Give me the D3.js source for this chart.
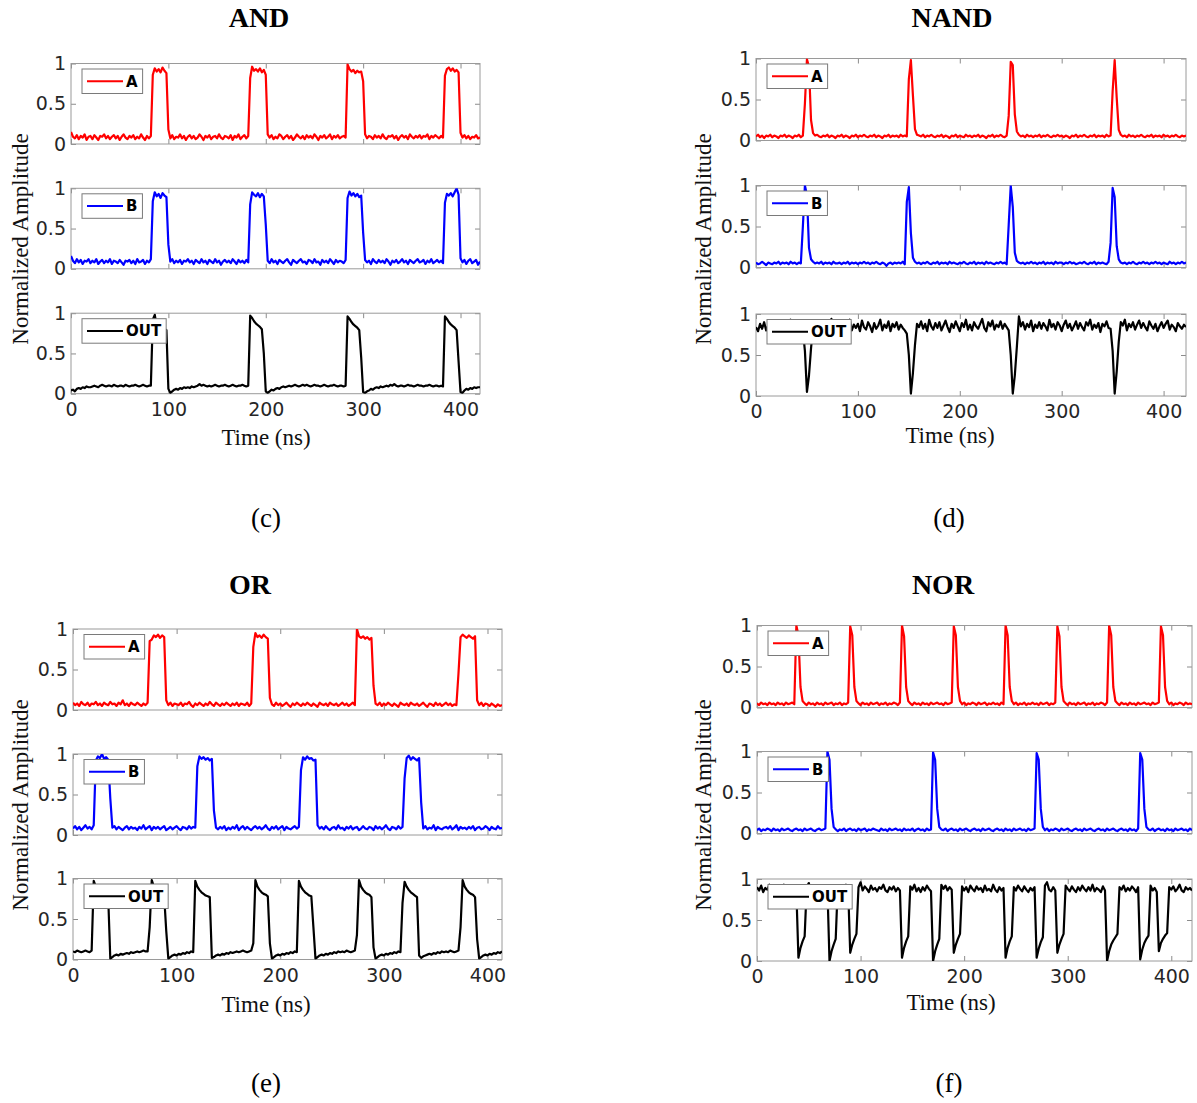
<!DOCTYPE html>
<html>
<head>
<meta charset="utf-8">
<script src="https://cdn.jsdelivr.net/npm/d3@7"></script>
<style>
  body { margin: 0; background: #fff; }
  svg { display: block; }
  .tick text { font-family: "DejaVu Sans", sans-serif; font-size: 19px; fill: #262626; }
  .tick line { stroke: #8c8c8c; }
  .title { font-family: "Liberation Serif", "Times New Roman", serif; font-weight: bold; font-size: 28px; }
  .axis-title { font-family: "Liberation Serif", "Times New Roman", serif; font-size: 23px; fill: #111; }
  .caption { font-family: "Liberation Serif", "Times New Roman", serif; font-size: 27px; }
  .legend text { font-family: "DejaVu Sans", sans-serif; font-weight: bold; font-size: 15px; }
</style>
</head>
<body>
<div class="chart"></div>
<script>
// sampling step of every trace (ns), samples start at t = 0
const dt = 2

// ---- AND gate ----
const andA = [
  .15,.09,.07,.11,.06,.10,.08,.12,.05,.09,
  .10,.06,.11,.08,.05,.10,.09,.12,.07,.10,
  .06,.09,.11,.07,.10,.05,.09,.12,.08,.06,
  .10,.08,.11,.06,.09,.07,.12,.08,.05,.10,
  .07,.10,.86,.94,.90,.93,.89,.95,.91,.88,
  .18,.07,.11,.06,.09,.08,.12,.07,.10,.05,
  .09,.11,.07,.10,.06,.08,.12,.09,.05,.10,
  .08,.11,.06,.09,.10,.07,.12,.08,.06,.10,
  .09,.07,.11,.05,.10,.08,.12,.06,.09,.11,
  .07,.10,.82,.96,.91,.93,.90,.94,.89,.92,
  .86,.12,.08,.11,.06,.09,.07,.12,.10,.06,
  .09,.11,.07,.10,.05,.08,.12,.09,.07,.10,
  .06,.11,.08,.10,.07,.12,.09,.05,.10,.08,
  .11,.07,.09,.12,.06,.10,.08,.11,.07,.09,
  .10,.08,.99,.93,.90,.92,.88,.91,.89,.90,
  .78,.12,.07,.10,.09,.06,.11,.08,.10,.07,
  .12,.08,.06,.10,.09,.11,.07,.10,.05,.09,
  .11,.08,.10,.06,.12,.09,.07,.10,.08,.11,
  .07,.10,.09,.12,.06,.10,.08,.11,.09,.07,
  .10,.08,.85,.93,.95,.91,.94,.90,.92,.89,
  .14,.08,.11,.07,.10,.06,.09,.08,.11,.07,
  .08
]
const andB = [
  .16,.10,.07,.12,.08,.11,.06,.10,.09,.12,
  .07,.10,.08,.12,.06,.09,.11,.07,.10,.08,
  .12,.06,.10,.09,.07,.11,.08,.05,.10,.09,
  .11,.07,.10,.06,.12,.08,.09,.11,.06,.10,
  .08,.12,.84,.95,.90,.93,.88,.94,.91,.89,
  .30,.09,.12,.07,.10,.08,.11,.06,.10,.09,
  .12,.08,.10,.06,.11,.09,.07,.12,.08,.10,
  .06,.11,.09,.07,.12,.08,.10,.05,.09,.11,
  .08,.10,.07,.12,.09,.06,.11,.08,.10,.07,
  .11,.08,.80,.95,.92,.90,.94,.89,.93,.90,
  .55,.10,.07,.12,.08,.10,.06,.11,.09,.07,
  .10,.12,.08,.05,.11,.09,.07,.10,.12,.08,
  .09,.06,.11,.10,.07,.12,.08,.09,.05,.11,
  .08,.10,.07,.12,.09,.06,.11,.08,.10,.09,
  .07,.11,.88,.96,.91,.94,.90,.93,.89,.91,
  .45,.11,.08,.10,.06,.12,.09,.07,.11,.08,
  .10,.07,.12,.09,.05,.10,.08,.11,.07,.09,
  .12,.08,.10,.06,.11,.09,.07,.10,.12,.08,
  .09,.11,.06,.10,.08,.12,.07,.09,.11,.08,
  .10,.07,.82,.93,.91,.94,.90,.95,1.0,.92,
  .13,.08,.11,.06,.10,.12,.07,.09,.11,.05,
  .09
]
const andOut = [
  .04,.05,.03,.06,.07,.06,.08,.07,.09,.08,
  .08,.09,.10,.09,.08,.10,.11,.10,.09,.10,
  .10,.09,.11,.10,.09,.10,.10,.09,.11,.10,
  .09,.10,.10,.11,.10,.09,.10,.11,.10,.09,
  .10,.10,.92,.98,.84,.82,.81,.80,.80,.79,
  .06,.01,.03,.05,.06,.05,.07,.06,.08,.07,
  .08,.07,.09,.08,.09,.10,.12,.10,.11,.10,
  .09,.10,.09,.10,.11,.10,.09,.10,.10,.11,
  .10,.09,.10,.11,.10,.09,.10,.10,.11,.10,
  .09,.10,.97,.94,.90,.87,.85,.83,.80,.50,
  .03,.01,.03,.05,.04,.06,.07,.06,.08,.09,
  .08,.09,.10,.09,.10,.11,.10,.09,.10,.11,
  .10,.11,.10,.09,.10,.11,.10,.10,.09,.10,
  .11,.10,.09,.10,.10,.11,.10,.09,.10,.10,
  .09,.10,.96,.93,.89,.86,.84,.82,.79,.45,
  .02,.01,.03,.04,.06,.05,.07,.08,.07,.09,
  .08,.09,.10,.09,.11,.10,.12,.10,.09,.10,
  .10,.09,.10,.11,.10,.10,.09,.10,.11,.10,
  .10,.09,.10,.10,.11,.10,.09,.10,.10,.09,
  .10,.09,.96,.93,.89,.86,.84,.82,.79,.40,
  .02,.01,.04,.06,.05,.07,.06,.08,.07,.08,
  .08
]

// ---- NAND gate ----
const nandA = [
  .05,.07,.04,.06,.03,.06,.05,.07,.04,.06,
  .05,.03,.06,.05,.07,.04,.06,.05,.03,.06,
  .05,.07,.04,.06,.45,.99,.90,.25,.09,.06,
  .07,.05,.04,.06,.05,.07,.04,.06,.05,.03,
  .06,.05,.07,.04,.06,.05,.03,.06,.05,.07,
  .04,.06,.05,.07,.05,.04,.06,.05,.07,.04,
  .06,.05,.03,.06,.05,.07,.04,.06,.05,.06,
  .04,.07,.05,.06,.05,.75,.98,.55,.14,.07,
  .06,.05,.07,.04,.06,.05,.07,.05,.04,.06,
  .05,.07,.04,.06,.05,.03,.06,.05,.07,.04,
  .06,.05,.04,.07,.05,.06,.04,.06,.05,.07,
  .04,.06,.05,.03,.06,.05,.07,.04,.06,.05,
  .07,.05,.04,.06,.30,.96,.92,.32,.11,.07,
  .05,.06,.04,.07,.05,.06,.04,.06,.05,.07,
  .04,.06,.05,.07,.05,.04,.06,.05,.07,.05,
  .06,.04,.06,.05,.03,.06,.05,.07,.04,.06,
  .05,.07,.05,.04,.06,.05,.07,.04,.06,.05,
  .06,.04,.07,.05,.06,.60,.98,.52,.13,.07,
  .05,.06,.04,.07,.05,.06,.04,.06,.05,.07,
  .05,.04,.06,.05,.07,.04,.06,.05,.06,.04,
  .07,.05,.06,.04,.06,.05,.07,.05,.04,.06,
  .05,.06
]
const nandB = [
  .06,.04,.05,.07,.05,.03,.06,.05,.04,.06,
  .05,.07,.04,.06,.05,.06,.04,.07,.05,.06,
  .04,.06,.05,.50,1.0,.88,.24,.10,.07,.05,
  .06,.05,.07,.04,.06,.05,.06,.04,.07,.05,
  .05,.06,.04,.06,.05,.07,.04,.06,.05,.06,
  .04,.06,.05,.07,.05,.06,.04,.06,.05,.07,
  .05,.04,.06,.05,.02,.05,.06,.04,.06,.05,
  .06,.05,.07,.04,.80,.98,.42,.12,.07,.05,
  .06,.04,.06,.05,.07,.05,.04,.06,.05,.07,
  .04,.06,.05,.06,.04,.07,.05,.06,.05,.04,
  .06,.05,.07,.05,.04,.06,.05,.07,.04,.06,
  .05,.06,.04,.07,.05,.06,.05,.04,.06,.05,
  .07,.05,.06,.04,.52,1.0,.74,.18,.08,.06,
  .05,.06,.04,.06,.05,.07,.05,.06,.04,.06,
  .05,.07,.04,.06,.05,.06,.04,.07,.05,.06,
  .06,.04,.06,.05,.07,.05,.06,.04,.05,.06,
  .05,.07,.05,.04,.06,.05,.07,.04,.06,.05,
  .06,.05,.04,.07,.30,.97,.86,.26,.10,.06,
  .05,.06,.04,.06,.05,.07,.05,.04,.06,.05,
  .07,.05,.06,.04,.06,.05,.07,.05,.06,.04,
  .06,.05,.04,.07,.05,.06,.04,.06,.05,.07,
  .05,.06
]
const nandOut = [
  .84,.79,.88,.82,.90,.80,.86,.78,.89,.83,
  .87,.80,.91,.84,.78,.88,.82,.93,.85,.79,
  .89,.83,.87,.80,.55,.05,.25,.58,.84,.86,
  .90,.81,.86,.92,.79,.87,.83,.94,.80,.88,
  .82,.91,.85,.78,.89,.84,.93,.80,.87,.83,
  .88,.79,.92,.84,.81,.90,.85,.78,.89,.82,
  .86,.93,.80,.87,.83,.91,.79,.88,.84,.90,
  .81,.87,.83,.80,.76,.50,.03,.28,.62,.88,
  .84,.91,.82,.88,.79,.93,.85,.81,.89,.83,
  .90,.80,.86,.92,.84,.78,.88,.83,.91,.85,
  .79,.89,.84,.93,.81,.87,.80,.90,.85,.82,
  .88,.94,.83,.79,.90,.85,.92,.81,.87,.84,
  .91,.82,.88,.84,.80,.50,.03,.25,.60,.97,
  .85,.90,.81,.88,.84,.92,.79,.87,.83,.90,
  .82,.89,.85,.80,.93,.84,.88,.81,.90,.86,
  .79,.87,.92,.83,.88,.80,.85,.91,.82,.89,
  .84,.80,.90,.86,.93,.81,.87,.83,.89,.78,
  .88,.85,.91,.83,.82,.55,.03,.30,.66,.90,
  .86,.93,.80,.88,.84,.90,.81,.87,.92,.83,
  .89,.84,.80,.91,.86,.82,.88,.79,.85,.90,
  .83,.88,.92,.81,.87,.84,.79,.89,.85,.82,
  .87,.84
]

// ---- OR gate ----
const orA = [
  .09,.06,.08,.05,.10,.07,.06,.09,.05,.08,
  .07,.10,.06,.08,.05,.09,.07,.06,.10,.07,
  .08,.05,.09,.07,.12,.06,.08,.05,.09,.07,
  .06,.09,.07,.05,.08,.06,.09,.85,.87,.92,
  .90,.93,.89,.92,.90,.12,.06,.09,.05,.08,
  .07,.06,.09,.05,.08,.07,.10,.06,.04,.08,
  .06,.09,.07,.05,.08,.06,.10,.07,.05,.09,
  .07,.05,.08,.06,.09,.07,.05,.08,.06,.09,
  .05,.08,.07,.06,.09,.05,.08,.78,.95,.90,
  .92,.89,.93,.90,.88,.15,.07,.05,.09,.06,
  .08,.05,.07,.09,.06,.04,.08,.06,.09,.07,
  .05,.08,.06,.09,.07,.05,.08,.06,.04,.09,
  .07,.06,.08,.05,.09,.07,.06,.08,.05,.07,
  .09,.06,.08,.05,.07,.09,.06,1.0,.91,.89,
  .91,.88,.90,.87,.89,.30,.08,.06,.09,.05,
  .08,.06,.09,.07,.05,.08,.06,.04,.09,.07,
  .06,.08,.05,.09,.07,.06,.08,.05,.07,.09,
  .06,.04,.08,.07,.05,.09,.06,.08,.05,.07,
  .09,.06,.08,.05,.07,.06,.45,.90,.93,.91,
  .89,.92,.90,.88,.91,.12,.06,.09,.05,.08,
  .07,.05,.08,.06,.04,.07,.05,.06
]
const orB = [
  .08,.11,.07,.10,.06,.09,.12,.08,.10,.07,
  .12,.92,.97,.95,1.0,.94,.96,.93,.45,.09,
  .11,.07,.10,.08,.06,.09,.11,.07,.10,.08,
  .09,.06,.10,.08,.12,.07,.09,.11,.06,.10,
  .08,.10,.07,.09,.11,.06,.08,.10,.07,.09,
  .11,.08,.06,.10,.09,.07,.11,.08,.10,.09,
  .85,.97,.94,.96,.93,.95,.92,.94,.30,.09,
  .07,.10,.08,.11,.06,.09,.07,.10,.08,.12,
  .06,.09,.11,.07,.10,.08,.06,.09,.11,.08,
  .10,.07,.09,.12,.08,.06,.10,.08,.11,.07,
  .09,.11,.06,.10,.08,.07,.09,.11,.08,.10,
  .80,.96,.93,.97,.94,.95,.92,.93,.12,.08,
  .10,.07,.11,.08,.06,.09,.10,.07,.12,.08,
  .09,.06,.10,.08,.11,.07,.09,.10,.06,.08,
  .11,.08,.07,.10,.09,.06,.11,.08,.10,.07,
  .09,.12,.08,.06,.10,.09,.07,.11,.08,.10,
  .70,.95,.98,.93,.96,.94,.92,.95,.40,.08,
  .11,.07,.09,.08,.12,.06,.10,.08,.07,.09,
  .10,.08,.11,.07,.09,.12,.06,.10,.08,.09,
  .07,.10,.08,.11,.06,.09,.10,.07,.08,.11,
  .09,.06,.10,.08,.07,.11,.08,.09
]
const orOut = [
  .10,.09,.11,.10,.09,.10,.11,.10,.09,.11,
  .97,.90,.86,.83,.81,.80,.78,.76,.01,.03,
  .05,.06,.05,.07,.06,.07,.08,.07,.09,.08,
  .09,.10,.09,.10,.11,.10,.10,.40,.98,.90,
  .86,.83,.81,.80,.78,.35,.01,.03,.05,.06,
  .05,.07,.06,.08,.07,.09,.08,.10,.09,.97,
  .90,.86,.83,.81,.79,.78,.77,.02,.03,.05,
  .06,.05,.07,.06,.08,.07,.09,.08,.09,.10,
  .09,.10,.11,.10,.09,.10,.11,.20,.98,.90,
  .86,.83,.81,.80,.78,.20,.01,.03,.05,.06,
  .05,.07,.06,.08,.07,.09,.08,.10,.09,.97,
  .90,.86,.83,.81,.79,.78,.40,.01,.03,.05,
  .06,.05,.07,.06,.08,.07,.09,.08,.10,.09,
  .10,.09,.11,.10,.09,.10,.11,.30,.98,.90,
  .86,.83,.81,.80,.77,.15,.01,.03,.05,.06,
  .05,.07,.06,.08,.07,.09,.08,.10,.09,.70,
  .96,.90,.86,.83,.81,.79,.77,.05,.02,.04,
  .05,.06,.07,.06,.08,.07,.09,.08,.10,.09,
  .10,.09,.11,.10,.09,.10,.11,.40,.98,.90,
  .86,.83,.81,.80,.77,.25,.01,.03,.05,.06,
  .05,.07,.06,.08,.07,.09,.08,.10
]

// ---- NOR gate ----
const norA = [
  .05,.03,.06,.04,.05,.03,.06,.04,.05,.03,
  .06,.04,.05,.03,.06,.04,.05,.06,.04,1.0,
  .88,.25,.08,.05,.03,.06,.04,.05,.03,.06,
  .04,.05,.03,.06,.04,.05,.06,.03,.05,.04,
  .06,.03,.05,.04,.06,.99,.88,.25,.08,.05,
  .03,.06,.04,.05,.03,.06,.04,.05,.06,.03,
  .05,.04,.06,.03,.05,.04,.06,.05,.03,.06,
  1.0,.87,.25,.08,.05,.03,.06,.04,.05,.03,
  .06,.04,.05,.03,.06,.04,.05,.06,.04,.05,
  .03,.06,.04,.05,.06,.99,.88,.25,.08,.04,
  .06,.03,.05,.04,.06,.05,.03,.06,.04,.05,
  .06,.03,.05,.04,.06,.04,.05,.03,.06,.04,
  1.0,.88,.25,.08,.04,.06,.03,.05,.04,.06,
  .03,.05,.04,.06,.04,.05,.03,.06,.04,.05,
  .06,.03,.05,.04,.06,.99,.87,.25,.08,.05,
  .03,.06,.04,.05,.03,.06,.04,.05,.06,.03,
  .05,.04,.06,.03,.05,.04,.06,.05,.03,.06,
  1.0,.88,.25,.08,.05,.03,.06,.04,.05,.03,
  .06,.04,.05,.03,.06,.04,.05,.06,.04,.05,
  .03,.06,.04,.05,.06,.99,.88,.25,.08,.04,
  .06,.03,.05,.04,.06,.05,.03,.06,.04,.05,
  .04
]
const norB = [
  .04,.06,.03,.05,.04,.06,.05,.03,.06,.04,
  .05,.03,.06,.04,.05,.06,.04,.03,.05,.06,
  .04,.05,.03,.06,.04,.05,.06,.04,.03,.05,
  .06,.04,.05,.06,1.0,.90,.30,.08,.05,.03,
  .05,.04,.06,.03,.05,.06,.04,.05,.03,.06,
  .04,.05,.06,.03,.05,.04,.06,.05,.04,.03,
  .06,.04,.05,.03,.06,.04,.05,.06,.04,.05,
  .03,.06,.04,.05,.04,.06,.03,.05,.06,.04,
  .05,.03,.06,.04,.05,.99,.90,.30,.08,.05,
  .04,.06,.03,.05,.06,.04,.05,.03,.06,.04,
  .05,.06,.04,.03,.05,.06,.04,.05,.03,.06,
  .04,.05,.06,.04,.03,.05,.06,.04,.05,.03,
  .06,.04,.05,.03,.06,.04,.05,.06,.04,.05,
  .03,.06,.04,.05,.06,.98,.90,.30,.08,.04,
  .06,.03,.05,.04,.06,.05,.03,.06,.04,.05,
  .06,.04,.03,.05,.06,.04,.05,.03,.06,.04,
  .05,.06,.04,.03,.05,.06,.04,.05,.03,.06,
  .04,.05,.06,.04,.03,.05,.06,.04,.05,.03,
  .06,.04,.05,.03,.06,.98,.90,.30,.08,.05,
  .04,.06,.03,.05,.06,.04,.05,.03,.06,.04,
  .05,.03,.06,.04,.05,.06,.04,.05,.03,.06,
  .04
]
const norOut = [
  .90,.86,.92,.84,.89,.87,.93,.85,.90,.88,
  .84,.91,.87,.93,.85,.89,.86,.92,.88,.85,
  .04,.16,.24,.30,.90,.95,.86,.91,.88,.84,
  .92,.87,.89,.85,.88,.00,.12,.20,.27,.92,
  .87,.90,.85,.93,.88,.10,.20,.27,.33,.90,
  .96,.86,.91,.88,.84,.92,.87,.89,.85,.90,
  .88,.93,.86,.84,.90,.87,.91,.85,.89,.86,
  .04,.16,.24,.30,.91,.87,.93,.85,.89,.84,
  .90,.86,.92,.88,.85,.00,.12,.20,.27,.93,
  .88,.92,.86,.90,.87,.10,.20,.27,.33,.91,
  .86,.90,.84,.92,.88,.85,.91,.87,.89,.84,
  .92,.86,.88,.85,.93,.87,.84,.90,.86,.89,
  .04,.16,.24,.30,.90,.86,.92,.88,.85,.91,
  .87,.84,.89,.86,.90,.04,.15,.23,.29,.92,
  .96,.87,.85,.90,.86,.10,.20,.27,.33,.92,
  .88,.85,.91,.87,.84,.90,.86,.92,.88,.85,
  .90,.86,.93,.85,.89,.87,.84,.91,.86,.00,
  .12,.20,.25,.29,.33,.90,.87,.92,.85,.89,
  .86,.91,.88,.84,.90,.02,.14,.22,.27,.31,
  .92,.86,.89,.84,.12,.22,.27,.31,.34,.90,
  .87,.91,.85,.88,.93,.86,.84,.90,.87,.89,
  .86
]

// labels and ticks
const gates = ["AND", "NAND", "OR", "NOR"]
const captions = ["(c)", "(d)", "(e)", "(f)"]
const seriesNames = ["A", "B", "OUT"]
const seriesColors = ["#ff0000", "#0000ff", "#000000"]
const xMax = [420, 422, 414, 420]
const xTicks = [0, 100, 200, 300, 400]
const yTicks = [0, 0.5, 1]
const xLabel = "Time (ns)"
const yLabel = "Normalized Amplitude"

const traces = [
  [andA, andB, andOut],
  [nandA, nandB, nandOut],
  [orA, orB, orOut],
  [norA, norB, norOut]
]

// where every panel sits on the page
const layout = [
  {left: 71, right: 480, tops: [63.5, 188.3, 313.2], h: 80.5, title: [259, 27], xt: [266, 445], yt: [28, 239], cap: [266, 527]},
  {left: 756, right: 1186, tops: [58.5, 185.5, 314], h: 82, title: [952, 27], xt: [950, 443], yt: [711, 239], cap: [949, 527]},
  {left: 73, right: 502, tops: [629, 754, 878.5], h: 81, title: [250, 594], xt: [266, 1012], yt: [28, 805], cap: [266, 1092]},
  {left: 757, right: 1192, tops: [625.5, 751.5, 879], h: 82, title: [943, 594], xt: [951, 1010], yt: [711, 805], cap: [949, 1092]}
]

const svg = d3.select(".chart")
  .append("svg")
  .attr("width", 1197)
  .attr("height", 1103)

svg.append("rect").attr("width", 1197).attr("height", 1103).attr("fill", "#fff")

layout.forEach((L, p) => {
  const w = L.right - L.left
  const x = d3.scaleLinear().domain([0, xMax[p]]).range([0, w])
  const y = d3.scaleLinear().domain([0, 1]).range([L.h, 0])

  svg.append("text").attr("class", "title")
    .attr("x", L.title[0]).attr("y", L.title[1])
    .attr("text-anchor", "middle")
    .text(gates[p])

  traces[p].forEach((vals, s) => {
    const g = svg.append("g").attr("transform", `translate(${L.left},${L.tops[s]})`)
    const clipId = `clip-${p}-${s}`
    g.append("clipPath").attr("id", clipId)
      .append("rect").attr("width", w).attr("height", L.h)

    const last = s == 2

    // ticks pointing inward on all four sides (box on)
    const bottom = g.append("g").attr("transform", `translate(0,${L.h})`)
      .call(d3.axisBottom(x).tickValues(xTicks).tickSizeInner(-5).tickSizeOuter(0).tickPadding(9)
        .tickFormat(last ? d3.format("") : ""))
    const top = g.append("g")
      .call(d3.axisTop(x).tickValues(xTicks).tickSizeInner(-5).tickSizeOuter(0).tickFormat(""))
    const left = g.append("g")
      .call(d3.axisLeft(y).tickValues(yTicks).tickSizeInner(-5).tickSizeOuter(0).tickPadding(5)
        .tickFormat(d3.format("")))
    const right = g.append("g").attr("transform", `translate(${w},0)`)
      .call(d3.axisRight(y).tickValues(yTicks).tickSizeInner(-5).tickSizeOuter(0).tickFormat(""))
    ;[bottom, top, left, right].forEach(a => a.select(".domain").remove())

    g.append("rect")
      .attr("width", w).attr("height", L.h)
      .attr("fill", "none").attr("stroke", "#9a9a9a").attr("stroke-width", 1)

    g.append("path")
      .datum(vals)
      .attr("clip-path", `url(#${clipId})`)
      .attr("fill", "none")
      .attr("stroke", seriesColors[s])
      .attr("stroke-width", 2.2)
      .attr("stroke-linejoin", "round")
      .attr("d", d3.line()
        .x((d, i) => x(i * dt))
        .y(d => y(d)))

    // legend box, opaque, top left
    const lg = g.append("g").attr("class", "legend").attr("transform", "translate(11,5.5)")
    const box = lg.append("rect").attr("height", 24.5)
      .attr("fill", "#fff").attr("stroke", "#7a7a7a").attr("stroke-width", 1)
    lg.append("line")
      .attr("x1", 5).attr("x2", 41).attr("y1", 12.25).attr("y2", 12.25)
      .attr("stroke", seriesColors[s]).attr("stroke-width", 2)
    const label = lg.append("text")
      .attr("x", 44).attr("y", 17.5)
      .text(seriesNames[s])
    box.attr("width", 44 + label.node().getComputedTextLength() + 5)
  })

  svg.append("text").attr("class", "axis-title")
    .attr("x", L.xt[0]).attr("y", L.xt[1])
    .attr("text-anchor", "middle")
    .text(xLabel)

  svg.append("text").attr("class", "axis-title")
    .attr("transform", `translate(${L.yt[0]},${L.yt[1]}) rotate(-90)`)
    .attr("text-anchor", "middle")
    .text(yLabel)

  svg.append("text").attr("class", "caption")
    .attr("x", L.cap[0]).attr("y", L.cap[1])
    .attr("text-anchor", "middle")
    .text(captions[p])
})
</script>
</body>
</html>
